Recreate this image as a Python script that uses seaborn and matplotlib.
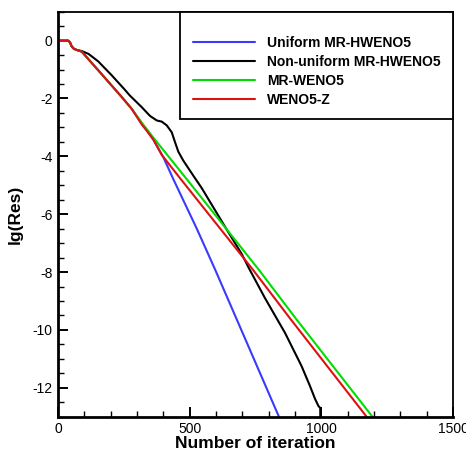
import numpy as np
import pandas as pd
import matplotlib
matplotlib.use("Agg")
import matplotlib.pyplot as plt
from matplotlib.ticker import MultipleLocator
import seaborn as sns

# Convergence histories: iteration count vs. log10 of the residual
uniform_iter = [0, 38, 45, 52, 60, 70, 90, 160, 242, 280, 318, 362, 400, 438,
                527, 596, 679, 839]
uniform_res = [0, 0, -0.05, -0.2, -0.28, -0.32, -0.38, -1.1, -1.95, -2.36,
               -2.86, -3.42, -4.03, -4.79, -6.5, -7.9, -9.64, -13.0]

nonuniform_iter = [0, 38, 45, 52, 60, 70, 80, 90, 116, 153, 204, 254, 273, 318,
                   349, 375, 394, 413, 432, 444, 457, 476, 514, 546, 640, 698,
                   727, 786, 862, 925, 957, 976, 989, 996, 997]
nonuniform_res = [0, 0, -0.05, -0.2, -0.28, -0.32, -0.34, -0.36, -0.46, -0.72,
                  -1.2, -1.7, -1.9, -2.3, -2.6, -2.76, -2.8, -2.93, -3.17,
                  -3.5, -3.84, -4.15, -4.67, -5.1, -6.52, -7.38, -7.9, -8.9,
                  -10.1, -11.25, -11.94, -12.38, -12.63, -12.7, -14.0]

mrweno_iter = [0, 38, 45, 52, 60, 70, 90, 160, 242, 280, 320, 360, 489, 761,
               906, 1194]
mrweno_res = [0, 0, -0.05, -0.2, -0.28, -0.32, -0.38, -1.1, -1.95, -2.36,
              -2.86, -3.33, -4.79, -7.9, -9.64, -13.0]

wenoz_iter = [0, 38, 45, 52, 60, 70, 90, 160, 242, 280, 318, 340, 362, 394,
              463, 742, 881, 1172]
wenoz_res = [0, 0, -0.05, -0.2, -0.28, -0.32, -0.38, -1.1, -1.95, -2.36,
             -2.9, -3.15, -3.42, -3.95, -4.75, -7.94, -9.6, -13.0]

labels = ["Uniform MR-HWENO5", "Non-uniform MR-HWENO5", "MR-WENO5", "WENO5-Z"]
colors = ["#3a3aff", "#000000", "#00dd00", "#dd1111"]

frames = []
for name, it, res in zip(labels,
                         [uniform_iter, nonuniform_iter, mrweno_iter, wenoz_iter],
                         [uniform_res, nonuniform_res, mrweno_res, wenoz_res]):
    frames.append(pd.DataFrame({"iteration": it, "lgres": res, "scheme": name}))
df = pd.concat(frames, ignore_index=True)

sns.set_theme(style="white")
plt.rcParams["font.family"] = ["Liberation Sans", "DejaVu Sans"]
plt.rcParams["axes.unicode_minus"] = False
plt.rcParams["text.color"] = "black"
plt.rcParams["axes.labelcolor"] = "black"
plt.rcParams["xtick.color"] = "black"
plt.rcParams["ytick.color"] = "black"

fig = plt.figure(figsize=(4.66, 4.55), dpi=100)
ax = fig.add_axes([0.1245, 0.0842, 0.8475, 0.8901])

sns.lineplot(data=df, x="iteration", y="lgres", hue="scheme",
             hue_order=labels, palette=colors, estimator=None, sort=False,
             linewidth=1.5, ax=ax)

ax.set_xlim(0, 1500)
ax.set_ylim(-13, 1)
ax.xaxis.set_major_locator(MultipleLocator(500))
ax.xaxis.set_minor_locator(MultipleLocator(100))
ax.yaxis.set_major_locator(MultipleLocator(2))
ax.yaxis.set_minor_locator(MultipleLocator(0.5))
ax.tick_params(axis="both", which="major", direction="in", length=7, width=1.4,
               labelsize=10, colors="black", labelcolor="black", pad=4,
               top=False, right=False, bottom=True, left=True)
ax.tick_params(axis="both", which="minor", direction="in", length=4, width=1.0,
               colors="black",
               top=False, right=False, bottom=True, left=True)

for side in ["left", "bottom"]:
    ax.spines[side].set_linewidth(2.0)
    ax.spines[side].set_color("black")
for side in ["top", "right"]:
    ax.spines[side].set_linewidth(1.3)
    ax.spines[side].set_color("black")

ax.set_xlabel("Number of iteration", fontsize=12.5, fontweight="bold",
              labelpad=0, color="black")
ax.set_ylabel("lg(Res)", fontsize=12.5, fontweight="bold", labelpad=7,
              color="black")

leg = ax.legend(loc="upper right", bbox_to_anchor=(1.0, 1.0), borderaxespad=0,
                frameon=True, fancybox=False, handlelength=4.5,
                handletextpad=0.85, borderpad=0.9, labelspacing=0.35,
                title=" ", title_fontsize=6,
                prop={"weight": "bold", "size": 10})
leg.get_frame().set_edgecolor("black")
leg.get_frame().set_linewidth(1.3)
leg.get_frame().set_alpha(1)
for text in leg.get_texts():
    text.set_color("black")
for line in leg.get_lines():
    line.set_linewidth(1.5)

fig.savefig("out.png", dpi=100)
